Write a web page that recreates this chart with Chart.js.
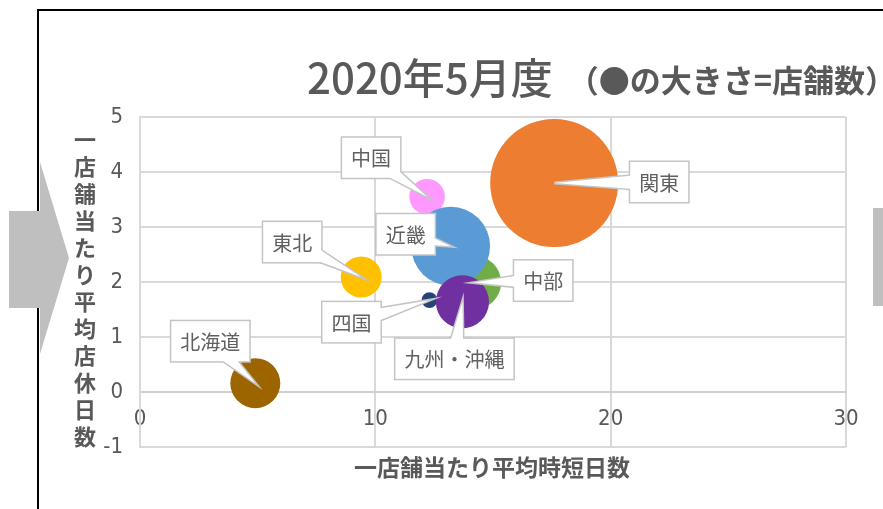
<!DOCTYPE html>
<html>
<head>
<meta charset="utf-8">
<script src="https://cdn.jsdelivr.net/npm/chart.js@4.4.1/dist/chart.umd.min.js"></script>
<style>
  html, body { margin: 0; padding: 0; background: #fff; }
  #wrap { width: 883px; height: 509px; }
</style>
</head>
<body>
<div id="wrap"><canvas id="bubbleChart" width="883" height="509"></canvas></div>
<script>
// 2020年5月度 地域別データ
const regions = ['関東', '北海道', '東北', '中部', '中国', '近畿', '四国', '九州・沖縄'];
const shortDays = [17.6, 4.9, 9.4, 14.2, 12.2, 13.2, 12.3, 13.7];    // 一店舗当たり平均時短日数
const closedDays = [3.8, 0.16, 2.09, 1.99, 3.55, 2.65, 1.67, 1.64];  // 一店舗当たり平均店休日数
const storeCounts = [400, 61, 41, 71, 31, 152, 6, 69];               // 店舗数 (bubble size)
const xTicks = [0, 10, 20, 30];
const yTicks = [-1, 0, 1, 2, 3, 4, 5];

const regionColors = ['#ED7D31', '#9C6500', '#FFC000', '#70AD47', '#FF99FF', '#5B9BD5', '#264478', '#7030A0'];
const gray = '#595959';
const numFont = "'Liberation Sans Narrow', 'DejaVu Sans Condensed', sans-serif";
const jpFont = "'Noto Sans CJK JP', sans-serif";

// callout box centre offsets from each bubble (px)
const calloutOffsets = [[105, -1], [-45, -42], [-69, -35], [69, -2], [-56, -39], [-45, -12], [-78, 22], [-8, 57]];

const decorPlugin = {
    id: 'decor',
    beforeDraw(chart) {
        const ctx = chart.ctx;
        ctx.save();
        ctx.fillStyle = '#fff';
        ctx.fillRect(0, 0, chart.width, chart.height);
        // outer frame
        ctx.strokeStyle = '#000';
        ctx.lineWidth = 2;
        ctx.beginPath();
        ctx.moveTo(38, 509);
        ctx.lineTo(38, 10);
        ctx.lineTo(883, 10);
        ctx.stroke();
        // gray arrow on the left, bar on the right
        ctx.fillStyle = '#bfbfbf';
        ctx.beginPath();
        ctx.moveTo(9, 211); ctx.lineTo(40, 211); ctx.lineTo(40, 162);
        ctx.lineTo(69, 258);
        ctx.lineTo(40, 354); ctx.lineTo(40, 308); ctx.lineTo(9, 308);
        ctx.closePath();
        ctx.fill();
        ctx.fillRect(873, 208, 10, 98);

        // title
        ctx.fillStyle = gray;
        ctx.textBaseline = 'alphabetic';
        ctx.textAlign = 'left';
        ctx.font = '500 42px ' + jpFont;
        ctx.fillText('2020年5月度', 307, 94);
        ctx.font = 'bold 31px ' + jpFont;
        ctx.textAlign = 'right';
        ctx.fillText('（●の大きさ=店舗数）', 896, 92);

        // y axis title, stacked characters
        ctx.font = 'bold 22px ' + jpFont;
        ctx.textAlign = 'center';
        ctx.textBaseline = 'middle';
        const yTitle = '一店舗当たり平均店休日数';
        [...yTitle].forEach((ch, i) => ctx.fillText(ch, 85, 140 + i * 27));

        // x axis title
        ctx.font = 'bold 23px ' + jpFont;
        ctx.fillText('一店舗当たり平均時短日数', 492, 467);
        ctx.restore();
    },
    afterDatasetsDraw(chart) {
        const ctx = chart.ctx;
        const meta = chart.getDatasetMeta(0);
        ctx.save();
        ctx.font = '20px ' + jpFont;
        meta.data.forEach((pt, i) => {
            const tx = pt.x, ty = pt.y;
            const cx = tx + calloutOffsets[i][0], cy = ty + calloutOffsets[i][1];
            const w = ctx.measureText(regions[i]).width + 18, h = 40;
            const x0 = cx - w / 2, y0 = cy - h / 2;
            const dx = tx - cx, dy = ty - cy, len = Math.hypot(dx, dy);
            const hw = 9;
            const nx = -dy / len * hw, ny = dx / len * hw;
            const wedge = () => {
                ctx.beginPath();
                ctx.moveTo(cx + nx, cy + ny);
                ctx.lineTo(tx, ty);
                ctx.lineTo(cx - nx, cy - ny);
                ctx.closePath();
            };
            ctx.lineWidth = 3;
            ctx.strokeStyle = '#c4c4c4';
            ctx.fillStyle = '#fff';
            wedge(); ctx.stroke();
            ctx.strokeRect(x0, y0, w, h);
            wedge(); ctx.fill();
            ctx.fillRect(x0, y0, w, h);
            ctx.fillStyle = '#606060';
            ctx.textAlign = 'center';
            ctx.textBaseline = 'middle';
            ctx.fillText(regions[i], cx, cy + 1);
        });
        ctx.restore();
    }
};

const ctx = document.getElementById('bubbleChart').getContext('2d');
const bubbleChart = new Chart(ctx, {
    type: 'bubble',
    data: {
        labels: regions,
        datasets: [{
            label: '店舗数',
            data: regions.map((r, i) => ({x: shortDays[i], y: closedDays[i], r: 3.2 * Math.sqrt(storeCounts[i])})),
            backgroundColor: regionColors,
            borderWidth: 0,
            hoverRadius: 0,
            clip: false
        }]
    },
    options: {
        responsive: false,
        animation: false,
        devicePixelRatio: 1,
        layout: {
            autoPadding: false,
            padding: {left: 100, top: 117, right: 37, bottom: 62}
        },
        plugins: {
            legend: {display: false},
            title: {display: false},
            tooltip: {enabled: false}
        },
        scales: {
            x: {
                type: 'linear',
                position: {y: 0},
                min: 0,
                max: 30,
                afterBuildTicks: s => { s.ticks = xTicks.map(v => ({value: v})); },
                ticks: {
                    color: gray,
                    font: {family: numFont, size: 22},
                    padding: 14,
                    maxRotation: 0
                },
                grid: {color: '#d9d9d9', lineWidth: 2, drawTicks: false},
                border: {display: true, color: '#d0d0d0', width: 2}
            },
            y: {
                type: 'linear',
                position: 'left',
                min: -1,
                max: 5,
                afterBuildTicks: s => { s.ticks = yTicks.map(v => ({value: v})); },
                afterFit: s => { s.width = 40; },
                ticks: {
                    color: gray,
                    font: {family: numFont, size: 22},
                    padding: 17
                },
                grid: {color: '#d9d9d9', lineWidth: 2, drawTicks: false},
                border: {display: true, color: '#d9d9d9', width: 2}
            }
        }
    },
    plugins: [decorPlugin]
});
</script>
</body>
</html>
